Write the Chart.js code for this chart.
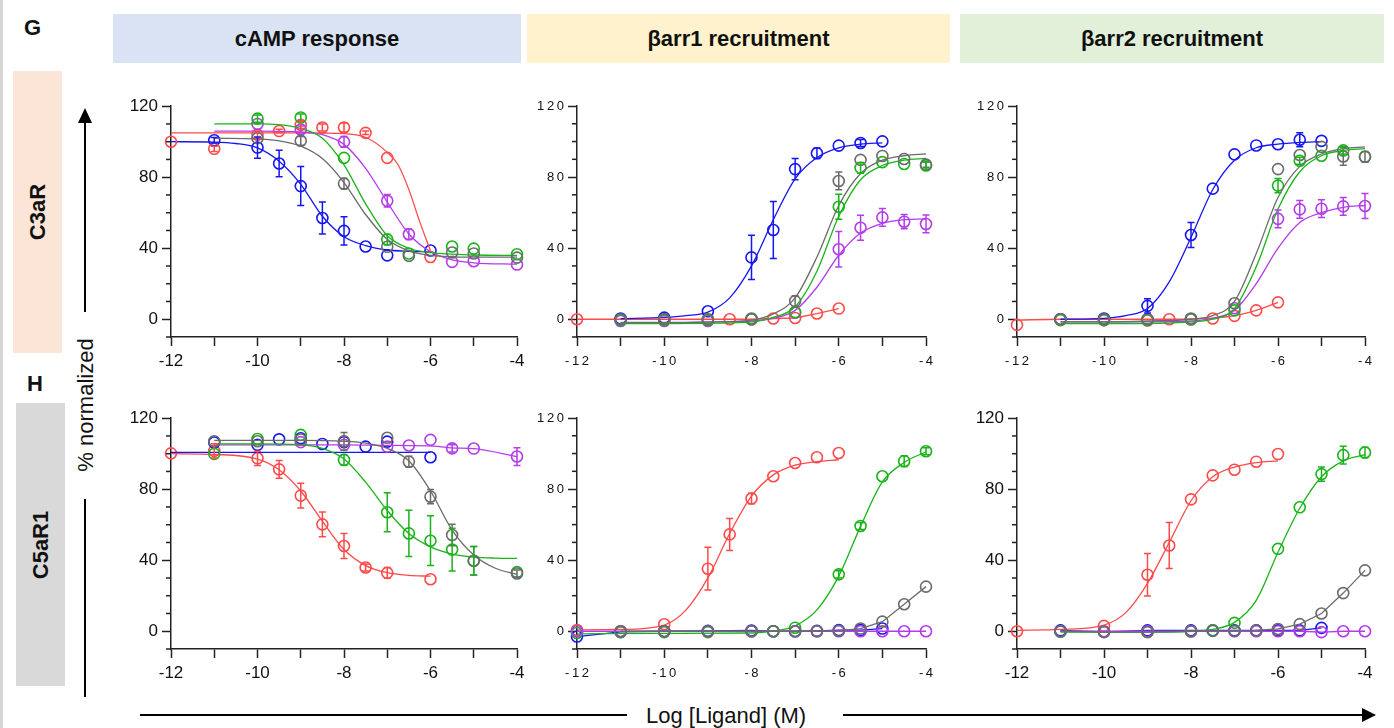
<!DOCTYPE html>
<html>
<head>
<meta charset="utf-8">
<script src="https://cdn.jsdelivr.net/npm/chart.js@4.4.1/dist/chart.umd.min.js"></script>
<style>
  body { margin: 0; width: 1394px; height: 728px; position: relative; overflow: hidden; background: #fff;
         font-family: 'Liberation Sans', Arial, sans-serif; color: #111; }
  .edge { position: absolute; left: 0; top: 0; width: 3px; height: 728px; background: #d6d6d6; }
  .head { position: absolute; top: 14px; height: 49px; display: flex; align-items: center; justify-content: center;
          font-weight: bold; font-size: 22px; }
  .tag { position: absolute; font-weight: bold; font-size: 22px; }
  .row { position: absolute; }
  .rot { position: absolute; transform: translate(-50%, -50%) rotate(-90deg); white-space: nowrap; }
  canvas { position: absolute; }
  svg { position: absolute; left: 0; top: 0; }
</style>
</head>
<body>
<div class="edge"></div>
<div class="tag" style="left:24px;top:15px">G</div>
<div class="tag" style="left:27px;top:371px">H</div>

<div class="head" style="left:113px;width:408px;background:#dae3f3">cAMP response</div>
<div class="head" style="left:527px;width:423px;background:#fff2cc">βarr1 recruitment</div>
<div class="head" style="left:960px;width:424px;background:#e2f0d9">βarr2 recruitment</div>

<div class="row" style="left:13px;top:71px;width:49px;height:282px;background:#fbe5d6"></div>
<div class="row" style="left:16px;top:403px;width:49px;height:283px;background:#d9d9d9"></div>
<div class="rot" style="left:38px;top:212px;font-weight:bold;font-size:22px">C3aR</div>
<div class="rot" style="left:41px;top:545px;font-weight:bold;font-size:22px">C5aR1</div>
<div class="rot" style="left:86px;top:405px;font-size:22px">% normalized</div>
<div style="position:absolute;left:646px;top:703px;font-size:22px;line-height:26px">Log [Ligand] (M)</div>

<svg width="1394" height="728">
  <line x1="85" y1="312" x2="85" y2="120" stroke="#000" stroke-width="2"/>
  <polygon points="78,123 92,123 85,108" fill="#000"/>
  <line x1="85" y1="499" x2="85" y2="697" stroke="#000" stroke-width="2"/>
  <line x1="140" y1="715" x2="627" y2="715" stroke="#000" stroke-width="2"/>
  <line x1="843" y1="715" x2="1364" y2="715" stroke="#000" stroke-width="2"/>
  <polygon points="1362,708 1362,722 1376,715" fill="#000"/>
</svg>

<canvas id="p1"></canvas><canvas id="p2"></canvas><canvas id="p3"></canvas>
<canvas id="p4"></canvas><canvas id="p5"></canvas><canvas id="p6"></canvas>

<script>
// ---- C3aR, cAMP ----
const c3CampBlueX = [-11, -10, -9.5, -9, -8.5, -8, -7.5, -7, -6];
const c3CampBlueY = [100.8, 96.7, 87.7, 75, 57, 49.8, 41, 36, 38.7];
const c3CampBlueE = [1.5, 6, 7.5, 11, 9, 8, 0, 0, 0];
const c3CampBlueFitX = [-12, -11, -10.5, -10, -9.5, -9, -8.5, -8, -7.5, -7, -6.5, -6];
const c3CampBlueFitY = [100, 99.8, 99, 96.5, 89, 76, 58, 46.5, 41.5, 39, 38.3, 38];
const c3CampRedX = [-12, -11, -10, -9.5, -9, -8.5, -8, -7.5, -7, -6];
const c3CampRedY = [100, 96, 104, 106, 109.5, 108, 108, 105, 90.9, 35.1];
const c3CampRedE = [0, 1.5, 2, 1, 2, 2, 2.5, 1, 0, 0];
const c3CampRedFitX = [-12, -10, -9, -8, -7.5, -7, -6.75, -6.5, -6.25, -6];
const c3CampRedFitY = [105, 105, 105, 104.5, 102.5, 94, 87, 73, 55, 38.5];
const c3CampGreenX = [-10, -9, -8, -7, -6.5, -5.5, -5, -4];
const c3CampGreenY = [113, 113.6, 90.9, 44.9, 37, 41, 39.8, 36.6];
const c3CampGreenE = [2, 2, 0, 3, 0, 0, 0, 0];
const c3CampGreenFitX = [-11, -10, -9, -8.5, -8, -7.5, -7, -6.5, -6, -5, -4];
const c3CampGreenFitY = [110, 110, 107.5, 102, 87, 65, 47, 40, 37.5, 36.2, 36];
const c3CampGrayX = [-10, -9, -8, -7, -6.5, -5.5, -5, -4];
const c3CampGrayY = [102, 100.5, 76.4, 40.8, 35.7, 37.6, 37, 34.7];
const c3CampGrayE = [0, 2.5, 3, 0, 0, 0, 0, 0];
const c3CampGrayFitX = [-11, -10, -9.5, -9, -8.5, -8, -7.5, -7, -6.5, -6, -5, -4];
const c3CampGrayFitY = [102, 101.5, 100.5, 97.5, 90.5, 77, 59, 45, 38.5, 36, 35, 35];
const c3CampPurpleX = [-10, -9, -8, -7, -6.5, -5.5, -5, -4];
const c3CampPurpleY = [110, 106.9, 99.9, 66.7, 47.9, 32.3, 32.7, 30.8];
const c3CampPurpleE = [0, 2, 3, 3.5, 3, 0, 0, 0];
const c3CampPurpleFitX = [-11, -10, -9, -8.5, -8, -7.5, -7, -6.5, -6, -5.5, -5, -4];
const c3CampPurpleFitY = [106, 106, 105.5, 104, 98.5, 85, 66, 48, 38, 33.5, 31.8, 31];

// ---- C3aR, βarr1 ----
const c3Arr1BlueX = [-11, -10, -9, -8, -7.5, -7, -6.5, -6, -5.5, -5];
const c3Arr1BlueY = [0.4, 0.9, 4.5, 34.8, 50.2, 84.5, 93.4, 97.7, 99.2, 100.1];
const c3Arr1BlueE = [0, 0, 0, 12.5, 16, 6, 3, 0, 2, 0];
const c3Arr1BlueFitX = [-11, -10, -9.5, -9, -8.5, -8, -7.5, -7, -6.5, -6, -5.5, -5];
const c3Arr1BlueFitY = [0.3, 1, 2, 4, 12, 30, 56, 79, 91, 96.5, 98.5, 99.3];
const c3Arr1GrayX = [-11, -10, -9, -8, -7, -6, -5.5, -5, -4.5, -4];
const c3Arr1GrayY = [0, 0, 0, 0.4, 10.2, 77.8, 89.7, 91.9, 90.2, 87];
const c3Arr1GrayE = [0, 0, 0, 0, 3, 5, 0, 0, 0, 1.5];
const c3Arr1GrayFitX = [-11, -10, -9, -8, -7.5, -7, -6.5, -6, -5.5, -5, -4.5, -4];
const c3Arr1GrayFitY = [-1.9, -1.9, -1.6, -0.5, 3, 12, 35, 64, 82, 89.5, 92, 93];
const c3Arr1GreenX = [-11, -10, -9, -8, -7, -6, -5.5, -5, -4.5, -4];
const c3Arr1GreenY = [-0.5, -0.5, -0.5, 0, 4, 63.3, 85.2, 88.4, 87.4, 86.5];
const c3Arr1GreenE = [0, 0, 0, 0, 0, 7, 3, 0, 0, 2];
const c3Arr1GreenFitX = [-11, -10, -9, -8, -7.5, -7, -6.5, -6, -5.5, -5, -4.5, -4];
const c3Arr1GreenFitY = [-2.5, -2.5, -2.3, -1.5, 1, 7, 27, 58, 78.5, 86.5, 89.5, 90.5];
const c3Arr1PurpleX = [-11, -10, -9, -8, -7, -6, -5.5, -5, -4.5, -4];
const c3Arr1PurpleY = [-1, -1, -1, 0, 3.7, 39.4, 51.5, 57.3, 54.9, 53.6];
const c3Arr1PurpleE = [0, 0, 0, 0, 0, 10, 7, 5, 4, 5];
const c3Arr1PurpleFitX = [-11, -10, -9, -8, -7.5, -7, -6.5, -6, -5.5, -5, -4.5, -4];
const c3Arr1PurpleFitY = [-1.8, -1.8, -1.5, -1, 0.5, 5, 18, 36, 48.5, 54, 56, 56.5];
const c3Arr1RedX = [-12, -11, -10, -9, -8.5, -8, -7.5, -7, -6.5, -6];
const c3Arr1RedY = [0, 0, 0, 0, 0, 0, 0.4, 0.7, 3.2, 6];

// ---- C3aR, βarr2 ----
const c3Arr2BlueX = [-11, -10, -9, -8, -7.5, -7, -6.5, -6, -5.5, -5];
const c3Arr2BlueY = [0, 0.4, 7.5, 47.4, 73.5, 92.8, 97.8, 98.5, 101, 100.4];
const c3Arr2BlueE = [0, 0, 4, 7, 0, 0, 0, 0, 4, 0];
const c3Arr2BlueFitX = [-11, -10, -9.5, -9, -8.5, -8, -7.5, -7, -6.5, -6, -5.5, -5];
const c3Arr2BlueFitY = [0, 0.5, 2, 6, 21, 46, 73, 89.5, 96.5, 98.5, 99.5, 100];
const c3Arr2DoseX = [-11, -10, -9, -8, -7, -6, -5.5, -5, -4.5, -4];
const c3Arr2FitX = [-11, -10, -9, -8, -7.5, -7, -6.5, -6, -5.5, -5, -4.5, -4];
const c3Arr2GrayY = [0, 0, 0, 0.4, 9, 84.5, 92.4, 97, 91.6, 91.4];
const c3Arr2GrayE = [0, 0, 0, 0, 0, 0, 0, 0, 5, 3];
const c3Arr2GrayFitY = [-1.5, -1.5, -1, 0, 2, 10, 37, 68.5, 86, 93, 96, 97];
const c3Arr2GreenY = [-0.5, -0.5, -0.5, 0, 5, 75.2, 89.2, 92, 95, 91.4];
const c3Arr2GreenE = [0, 0, 0, 0, 0, 4, 2, 0, 2, 0];
const c3Arr2GreenFitY = [-2.5, -2.5, -2.5, -1.5, 0, 6, 29.5, 62, 83, 92, 95, 96];
const c3Arr2PurpleY = [0, -0.5, 0, 0, 6.2, 56.5, 61.8, 62.2, 63.5, 63.7];
const c3Arr2PurpleE = [0, 0, 0, 0, 0, 5, 5, 5, 5, 7];
const c3Arr2PurpleFitY = [-1.5, -1.5, -1.5, -1, 0.5, 5, 20, 40, 54.5, 60, 63, 64];
const c3Arr2RedX = [-12, -11, -10, -9, -8.5, -8, -7.5, -7, -6.5, -6];
const c3Arr2RedY = [-3.2, 0, 0, -0.7, 0, 0, 0.4, 1.9, 5, 9.5];
const c3Arr2RedLineY = [-0.5, 0, 0, 0, 0, 0.2, 0.6, 2, 5, 9.5];

// ---- C5aR1, cAMP ----
const c5CampRedX = [-12, -11, -10, -9.5, -9, -8.5, -8, -7.5, -7, -6];
const c5CampRedY = [100.2, 101.6, 97.4, 91.2, 76.4, 60.2, 48, 35.9, 32.9, 29.3];
const c5CampRedE = [0, 4, 4, 5, 7, 7, 7, 2, 3, 0];
const c5CampRedFitX = [-12, -11, -10, -9.5, -9, -8.5, -8, -7.5, -7, -6.5, -6];
const c5CampRedFitY = [100, 99.6, 97, 91, 79, 62, 46, 37, 33, 31.5, 31];
const c5CampBlueX = [-11, -10, -9.5, -9, -8.5, -8, -7.5, -7, -6];
const c5CampBlueY = [106.3, 105, 108.1, 108.7, 105.5, 106.5, 104, 106.8, 98];
const c5CampBlueFitX = [-12, -6];
const c5CampBlueFitY = [100.8, 100.8];
const c5CampGreenX = [-11, -10, -9, -8, -7, -6.5, -6, -5.5, -5, -4];
const c5CampGreenY = [99.9, 108.3, 110.6, 96.5, 67, 55.1, 51, 46, 39.7, 33.3];
const c5CampGreenE = [0, 0, 0, 3, 11, 13, 14, 12, 8, 0];
const c5CampGreenFitX = [-11, -10, -9, -8.5, -8, -7.5, -7, -6.5, -6, -5.5, -5, -4.5, -4];
const c5CampGreenFitY = [105.5, 105.5, 105, 103, 97, 84, 68, 55, 47.5, 43.5, 41.8, 41.2, 41];
const c5CampGrayX = [-11, -10, -9, -8, -7, -6.5, -6, -5.5, -5, -4];
const c5CampGrayY = [107, 107, 108, 107, 109, 95.5, 75.8, 54.2, 39.7, 32.5];
const c5CampGrayE = [0, 0, 0, 5, 0, 3, 4, 6, 8, 2];
const c5CampGrayFitX = [-11, -10, -9, -8, -7.5, -7, -6.5, -6, -5.5, -5, -4.5, -4];
const c5CampGrayFitY = [107.5, 107.5, 107.5, 107, 106, 103, 96, 79, 57, 43, 35.5, 32];
const c5CampPurpleX = [-9, -8, -7, -6.5, -6, -5.5, -5, -4];
const c5CampPurpleY = [106.5, 105, 104, 104.6, 107.8, 103, 102.9, 98.4];
const c5CampPurpleE = [0, 0, 0, 0, 0, 2, 0, 5];
const c5CampPurpleLineX = [-11, -10, -9, -8, -7, -6.5, -6, -5.5, -5, -4];
const c5CampPurpleLineY = [105, 105, 105, 105, 104.7, 104.6, 104.4, 103.3, 102.9, 98.4];

// ---- C5aR1, βarr1 ----
const c5Arr1RedX = [-12, -11, -10, -9, -8.5, -8, -7.5, -7, -6.5, -6];
const c5Arr1RedY = [0.7, 0, 3.9, 35.2, 54.5, 74.7, 87.2, 94.7, 97.9, 100.3];
const c5Arr1RedE = [0, 0, 0, 12, 9, 3, 0, 0, 0, 0];
const c5Arr1RedFitX = [-12, -11, -10, -9.5, -9, -8.5, -8, -7.5, -7, -6.5, -6];
const c5Arr1RedFitY = [0.8, 1, 3.5, 12, 30, 55, 76, 88, 93.5, 95.5, 96.5];
const c5Arr1GreenX = [-12, -11, -10, -9, -8, -7.5, -7, -6, -5.5, -5, -4.5, -4];
const c5Arr1GreenY = [-1, -0.5, -0.5, -0.5, 0, 0, 2, 32, 59.2, 87.2, 95.7, 101.3];
const c5Arr1GreenE = [0, 0, 0, 0, 0, 0, 0, 2, 2, 0, 3, 2];
const c5Arr1GreenFitX = [-12, -10, -8, -7.5, -7, -6.5, -6, -5.5, -5, -4.5, -4];
const c5Arr1GreenFitY = [-1.5, -1.2, -1, 0, 3, 12, 31, 59, 84, 95, 101];
const c5Arr1GrayX = [-11, -10, -9, -8, -7.5, -7, -6.5, -6, -5.5, -5, -4.5, -4];
const c5Arr1GrayY = [0, 0, 0, 0, 0, 0, 0, 0.3, 1.5, 5.4, 15.2, 25.1];
const c5Arr1BlueX = [-12, -11, -10, -9, -8, -7.5, -7, -6.5, -6, -5.5, -5];
const c5Arr1BlueY = [-3, -0.4, 0, 0.2, 0.4, 0, 0, 0.2, 0.6, 0.6, 1.5];
const c5Arr1PurpleX = [-12, -11, -10, -9, -8, -7, -6.5, -6, -5.5, -5, -4.5, -4];
const c5Arr1PurpleY = [0, 0, 0, 0, 0, 0, 0, 0, 0, 0, 0, 0];

// ---- C5aR1, βarr2 ----
const c5Arr2RedX = [-12, -11, -10, -9, -8.5, -8, -7.5, -7, -6.5, -6];
const c5Arr2RedY = [0, 0.2, 3, 31.8, 48.3, 74.3, 87.8, 91, 95.5, 99.8];
const c5Arr2RedE = [0, 0, 0, 12, 13, 0, 0, 0, 0, 0];
const c5Arr2RedFitX = [-12, -11, -10, -9.5, -9, -8.5, -8, -7.5, -7, -6.5, -6];
const c5Arr2RedFitY = [0.5, 1, 3.5, 10.5, 27, 50, 73.5, 87, 92.5, 95, 96];
const c5Arr2GreenX = [-11, -10, -9, -8, -7.5, -7, -6, -5.5, -5, -4.5, -4];
const c5Arr2GreenY = [-0.3, -0.3, -0.3, 0, 0.5, 4.7, 46.4, 69.8, 88.5, 99.2, 100.7];
const c5Arr2GreenE = [0, 0, 0, 0, 0, 0, 0, 0, 4, 5, 3];
const c5Arr2GreenFitX = [-11, -9, -8, -7.5, -7, -6.5, -6, -5.5, -5, -4.5, -4];
const c5Arr2GreenFitY = [-0.5, -0.5, 0, 1, 5, 17.4, 44.5, 69.3, 87, 96, 99.5];
const c5Arr2GrayX = [-11, -10, -9, -8, -7.5, -7, -6.5, -6, -5.5, -5, -4.5, -4];
const c5Arr2GrayY = [0, -0.5, -0.5, 0, 0.2, 0.2, 0.5, 1.3, 4, 10, 21.5, 34.3];
const c5Arr2BlueX = [-11, -10, -9, -8, -7.5, -7, -6.5, -6, -5.5, -5];
const c5Arr2BlueY = [0.5, -0.3, 0.5, 0.5, 0.5, 0.5, 0.5, 0.5, 0.5, 1.9];
const c5Arr2PurpleX = [-11, -10, -9, -8, -7, -6.5, -6, -5.5, -5, -4.5, -4];
const c5Arr2PurpleY = [0, 0, 0, 0, 0, 0, 0, 0, -0.5, 0, 0];

// axis ranges
const xRange = [-12, -4];
const yRange = [-10, 120];

const BLUE = '#1616f2', GRAY = '#6b6b6b', GREEN = '#19b419', PURPLE = '#b33ceb', RED = '#ff4a4a';
const FONT = "'Liberation Sans', Arial, sans-serif";

const xy = (xs, ys) => xs.map((x, i) => ({ x, y: ys[i] }));

// smooth fitted curve, no markers
function curve(xs, ys, color) {
  return { data: xy(xs, ys), borderColor: color, borderWidth: 1.3, pointRadius: 0,
           cubicInterpolationMode: 'monotone', fill: false, clip: false };
}
// open-circle markers, optionally joined by straight segments
function dots(xs, ys, color, errs, joined) {
  return { data: xy(xs, ys), errs: errs || null, showLine: !!joined, borderColor: color, borderWidth: 1.3,
           tension: 0, pointRadius: 5.5, pointBorderWidth: 1.6, pointBorderColor: color,
           pointBackgroundColor: 'rgba(0,0,0,0)', fill: false, clip: false };
}

const errorBars = {
  id: 'errorBars',
  afterDatasetsDraw(chart) {
    const { ctx, scales: { x, y } } = chart;
    chart.data.datasets.forEach(ds => {
      if (!ds.errs) return;
      ctx.save();
      ctx.strokeStyle = ds.pointBorderColor;
      ctx.lineWidth = 1.5;
      ds.data.forEach((p, i) => {
        const e = ds.errs[i];
        if (!e) return;
        const px = x.getPixelForValue(p.x);
        const top = y.getPixelForValue(p.y + e), bot = y.getPixelForValue(p.y - e);
        ctx.beginPath();
        ctx.moveTo(px, top); ctx.lineTo(px, bot);
        ctx.moveTo(px - 3.5, top); ctx.lineTo(px + 3.5, top);
        ctx.moveTo(px - 3.5, bot); ctx.lineTo(px + 3.5, bot);
        ctx.stroke();
      });
      ctx.restore();
    });
  }
};

// short ticks on the y axis between the labelled ones
const minorTicks = {
  id: 'minorTicks',
  afterDraw(chart) {
    const y = chart.scales.y, ctx = chart.ctx;
    ctx.save();
    ctx.strokeStyle = '#222';
    ctx.lineWidth = 1.5;
    y.ticks.forEach(t => {
      if (t.value % 40 === 0) return;
      const py = y.getPixelForValue(t.value);
      ctx.beginPath(); ctx.moveTo(y.right - 5, py); ctx.lineTo(y.right, py); ctx.stroke();
    });
    ctx.restore();
  }
};

const spaced = v => String(v).split('').join('\u2009');

const AXIS_W = 60, AXIS_H = 40, PAD_T = 14, PAD_R = 25;

function panel(id, left, top, w, h, datasets, narrow) {
  const cv = document.getElementById(id);
  cv.width = AXIS_W + w + PAD_R;
  cv.height = PAD_T + h + AXIS_H;
  cv.style.left = (left - AXIS_W) + 'px';
  cv.style.top = (top - PAD_T) + 'px';
  const fmt = narrow ? spaced : String;
  const tickFont = narrow ? { family: FONT, size: 13 } : { family: FONT, size: 17 };
  new Chart(cv, {
    type: 'line',
    data: { datasets },
    options: {
      responsive: false, animation: false, devicePixelRatio: 1,
      layout: { padding: { top: PAD_T, right: PAD_R, left: 0, bottom: 0 } },
      plugins: { legend: { display: false }, tooltip: { enabled: false } },
      scales: {
        x: {
          type: 'linear', min: xRange[0], max: xRange[1],
          afterFit: s => { s.height = AXIS_H; },
          border: { color: '#222', width: 1.5 },
          grid: { drawOnChartArea: false, tickLength: 9, tickColor: '#222', tickWidth: 1.5 },
          ticks: { stepSize: 1, autoSkip: false, maxRotation: 0, color: '#111', font: tickFont,
                   padding: narrow ? 8 : 5, callback: v => (v % 2 === 0 ? fmt(v) : '') }
        },
        y: {
          min: yRange[0], max: yRange[1],
          afterFit: s => { s.width = AXIS_W; },
          border: { color: '#222', width: 1.5 },
          grid: { drawOnChartArea: false, tickLength: 9, tickWidth: 1.5,
                  tickColor: c => (c.tick && c.tick.value % 40 === 0 ? '#222' : 'rgba(0,0,0,0)') },
          ticks: { stepSize: 10, autoSkip: false, color: '#111', font: tickFont, padding: 4,
                   callback: v => (v % 40 === 0 ? fmt(v) : '') }
        }
      }
    },
    plugins: [errorBars, minorTicks]
  });
}

const COLS = [[171, 346.5], [577, 349], [1017, 348.5]];
const ROWS = [[106, 231], [418, 231]];

panel('p1', COLS[0][0], ROWS[0][0], COLS[0][1], ROWS[0][1], [
  curve(c3CampGrayFitX, c3CampGrayFitY, GRAY), dots(c3CampGrayX, c3CampGrayY, GRAY, c3CampGrayE),
  curve(c3CampGreenFitX, c3CampGreenFitY, GREEN), dots(c3CampGreenX, c3CampGreenY, GREEN, c3CampGreenE),
  curve(c3CampPurpleFitX, c3CampPurpleFitY, PURPLE), dots(c3CampPurpleX, c3CampPurpleY, PURPLE, c3CampPurpleE),
  curve(c3CampRedFitX, c3CampRedFitY, RED), dots(c3CampRedX, c3CampRedY, RED, c3CampRedE),
  curve(c3CampBlueFitX, c3CampBlueFitY, BLUE), dots(c3CampBlueX, c3CampBlueY, BLUE, c3CampBlueE)
], false);

panel('p2', COLS[1][0], ROWS[0][0], COLS[1][1], ROWS[0][1], [
  curve(c3Arr1GrayFitX, c3Arr1GrayFitY, GRAY), dots(c3Arr1GrayX, c3Arr1GrayY, GRAY, c3Arr1GrayE),
  curve(c3Arr1GreenFitX, c3Arr1GreenFitY, GREEN), dots(c3Arr1GreenX, c3Arr1GreenY, GREEN, c3Arr1GreenE),
  curve(c3Arr1PurpleFitX, c3Arr1PurpleFitY, PURPLE), dots(c3Arr1PurpleX, c3Arr1PurpleY, PURPLE, c3Arr1PurpleE),
  curve(c3Arr1BlueFitX, c3Arr1BlueFitY, BLUE), dots(c3Arr1BlueX, c3Arr1BlueY, BLUE, c3Arr1BlueE),
  dots(c3Arr1RedX, c3Arr1RedY, RED, null, true)
], true);

panel('p3', COLS[2][0], ROWS[0][0], COLS[2][1], ROWS[0][1], [
  curve(c3Arr2FitX, c3Arr2GrayFitY, GRAY), dots(c3Arr2DoseX, c3Arr2GrayY, GRAY, c3Arr2GrayE),
  curve(c3Arr2FitX, c3Arr2GreenFitY, GREEN), dots(c3Arr2DoseX, c3Arr2GreenY, GREEN, c3Arr2GreenE),
  curve(c3Arr2FitX, c3Arr2PurpleFitY, PURPLE), dots(c3Arr2DoseX, c3Arr2PurpleY, PURPLE, c3Arr2PurpleE),
  curve(c3Arr2BlueFitX, c3Arr2BlueFitY, BLUE), dots(c3Arr2BlueX, c3Arr2BlueY, BLUE, c3Arr2BlueE),
  curve(c3Arr2RedX, c3Arr2RedLineY, RED), dots(c3Arr2RedX, c3Arr2RedY, RED)
], true);

panel('p4', COLS[0][0], ROWS[1][0], COLS[0][1], ROWS[1][1], [
  curve(c5CampGrayFitX, c5CampGrayFitY, GRAY), dots(c5CampGrayX, c5CampGrayY, GRAY, c5CampGrayE),
  curve(c5CampGreenFitX, c5CampGreenFitY, GREEN), dots(c5CampGreenX, c5CampGreenY, GREEN, c5CampGreenE),
  curve(c5CampPurpleLineX, c5CampPurpleLineY, PURPLE), dots(c5CampPurpleX, c5CampPurpleY, PURPLE, c5CampPurpleE),
  curve(c5CampBlueFitX, c5CampBlueFitY, BLUE), dots(c5CampBlueX, c5CampBlueY, BLUE),
  curve(c5CampRedFitX, c5CampRedFitY, RED), dots(c5CampRedX, c5CampRedY, RED, c5CampRedE)
], false);

panel('p5', COLS[1][0], ROWS[1][0], COLS[1][1], ROWS[1][1], [
  dots(c5Arr1GrayX, c5Arr1GrayY, GRAY, null, true),
  dots(c5Arr1PurpleX, c5Arr1PurpleY, PURPLE, null, true),
  curve(c5Arr1GreenFitX, c5Arr1GreenFitY, GREEN), dots(c5Arr1GreenX, c5Arr1GreenY, GREEN, c5Arr1GreenE),
  dots(c5Arr1BlueX, c5Arr1BlueY, BLUE, null, true),
  curve(c5Arr1RedFitX, c5Arr1RedFitY, RED), dots(c5Arr1RedX, c5Arr1RedY, RED, c5Arr1RedE)
], true);

panel('p6', COLS[2][0], ROWS[1][0], COLS[2][1], ROWS[1][1], [
  dots(c5Arr2GrayX, c5Arr2GrayY, GRAY, null, true),
  dots(c5Arr2PurpleX, c5Arr2PurpleY, PURPLE, null, true),
  curve(c5Arr2GreenFitX, c5Arr2GreenFitY, GREEN), dots(c5Arr2GreenX, c5Arr2GreenY, GREEN, c5Arr2GreenE),
  dots(c5Arr2BlueX, c5Arr2BlueY, BLUE, null, true),
  curve(c5Arr2RedFitX, c5Arr2RedFitY, RED), dots(c5Arr2RedX, c5Arr2RedY, RED, c5Arr2RedE)
], false);
</script>
</body>
</html>
